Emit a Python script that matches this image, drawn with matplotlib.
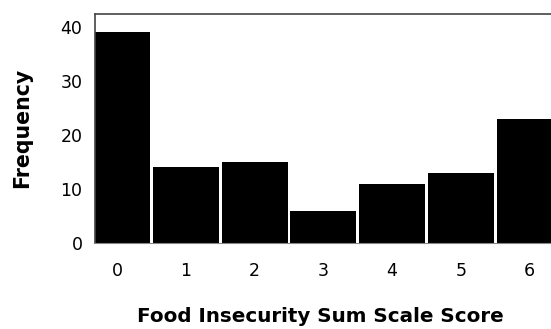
import matplotlib

matplotlib.use("Agg")
import matplotlib.pyplot as plt

# data
scores = [0, 1, 2, 3, 4, 5, 6]
freqs = [39, 14, 15, 6, 11, 13, 23]
yticks = [0, 10, 20, 30, 40]

plt.rcParams["font.family"] = ["DejaVu Sans"]

fig = plt.figure(figsize=(5.51, 3.29), dpi=100)
ax = fig.add_axes([95 / 551, 1 - 243 / 329, 1 - 95 / 551, (243 - 14) / 329])

ax.bar(scores, freqs, width=0.96, color="black", edgecolor="none")

ax.set_xlim(-0.32, 6.31)
ax.set_ylim(0, 42.4)
ax.set_xticks(scores)
ax.set_yticks(yticks)
ax.tick_params(axis="both", length=0, labelsize=12.5)
ax.tick_params(axis="x", pad=14)
ax.tick_params(axis="y", pad=9)

for side in ("top", "left"):
    ax.spines[side].set_color("#444444")
    ax.spines[side].set_linewidth(1.2)
ax.spines["bottom"].set_color("#888888")
ax.spines["right"].set_visible(False)

fig.text(22 / 551, 1 - 128 / 329, "Frequency", rotation=90, fontsize=14.8,
         fontweight="bold", ha="center", va="center")
fig.text(320 / 551, 1 - 316 / 329, "Food Insecurity Sum Scale Score",
         fontsize=14.3, fontweight="bold", ha="center", va="center")

fig.savefig("out.png", dpi=100)
